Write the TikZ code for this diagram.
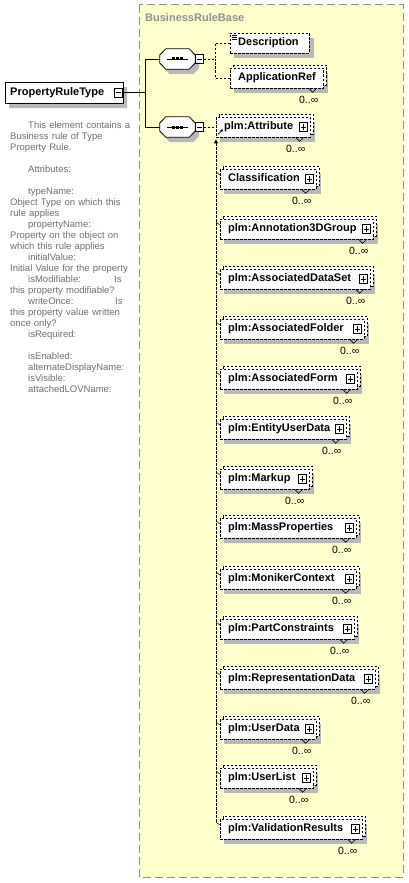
\documentclass[tikz,border=0pt]{standalone}
\usepackage{fontspec}
\setmainfont{Liberation Sans}
\usetikzlibrary{arrows.meta,shapes.misc}
\definecolor{basefill}{HTML}{FFFFCC}
\definecolor{baseedge}{HTML}{8C8C8C}
\definecolor{basetext}{HTML}{909090}
\definecolor{annot}{HTML}{6E6E6E}
\definecolor{shadowgrey}{HTML}{B8B8B8}
\newcommand\lblfont{\fontsize{11}{13}\selectfont\bfseries}
\newcommand\multfont{\fontsize{10.5}{12}\selectfont}
\newcommand\annotfont{\fontsize{9.5}{11}\selectfont}
\tikzset{
  xsd dash/.style={dash pattern=on 2.5pt off 1.5pt},
  elembox/.style={draw, xsd dash, line width=.7pt, fill=white, anchor=west,
    minimum height=20pt, inner sep=0pt},
  backbox/.style={draw, xsd dash, line width=.7pt, fill=white},
  lbl/.style={font=\lblfont, anchor=west, inner sep=0pt, text height=8pt, text depth=3pt},
  mult/.style={font=\multfont, inner sep=0pt},
  notch/.style={solid, line width=.6pt},
  tick/.style={line width=.5pt},
  conn/.style={line width=.8pt},
  dconn/.style={line width=.8pt, xsd dash},
  subline/.style={line width=.8pt, xsd dash},
  seqline/.style={line width=.8pt},
  markbox/.style={draw, solid, fill=white, line width=.6pt, minimum width=8pt,
    minimum height=9pt, inner sep=0pt},
  minusbox/.style={markbox, path picture={
    \draw[line width=.6pt] ([xshift=1.5pt]path picture bounding box.west)
      -- ([xshift=-1.5pt]path picture bounding box.east);}},
  plusbox/.style={markbox, path picture={
    \draw[line width=.6pt] ([xshift=1.5pt]path picture bounding box.west)
      -- ([xshift=-1.5pt]path picture bounding box.east);
    \draw[line width=.6pt] ([yshift=-1.5pt]path picture bounding box.north)
      -- ([yshift=1.5pt]path picture bounding box.south);}},
  seqfrm/.style={minimum width=35pt, minimum height=20pt, inner sep=0pt},
  rootshape/.style={chamfered rectangle, chamfered rectangle xsep=3pt,
    chamfered rectangle ysep=3pt,
    chamfered rectangle corners={north west,south west}, anchor=west,
    minimum width=118pt, minimum height=21pt, inner sep=0pt},
  rootbox/.style={rootshape, draw, line width=.8pt, fill=white}
}
% octagon of a sequence compositor
\newcommand\octpath[1]{([yshift=4pt]#1.west) -- ([xshift=6pt]#1.north west)
  -- ([xshift=-6pt]#1.north east) -- ([yshift=4pt]#1.east)
  -- ([yshift=-4pt]#1.east) -- ([xshift=-6pt]#1.south east)
  -- ([xshift=6pt]#1.south west) -- ([yshift=-4pt]#1.west) -- cycle}
\newcommand\seqbox[3]{%
  \node[seqfrm] (#1-sh) at (#2+4,#3+5) {};
  \fill[shadowgrey] \octpath{#1-sh};
  \node[seqfrm] (#1) at (#2,#3) {};
  \filldraw[seqline, fill=white] \octpath{#1};
  \draw[seqline] ([xshift=7pt]#1.west) -- ([xshift=-7pt]#1.east);
  \foreach \dx in {-4,0,4}
    \fill ([xshift=\dx pt]#1.center) ++(-1.5pt,-1.5pt) rectangle ++(3pt,3pt);
  \node[minusbox] (#1m) at ([xshift=4pt]#1.east) {};
}
% repeated element: shadow, back copy, box, label, notch and 0..oo
\newcommand\repelem[5]{%
  \fill[shadowgrey] (#2+4,#3-5) rectangle (#2+#4+5,#3+15);
  \draw[backbox] (#2+3,#3-13) rectangle (#2+#4+3,#3+7);
  \node[elembox, minimum width=#4pt] (#1) at (#2,#3) {};
  \node[lbl] (#1-lbl) at ([xshift=8pt]#1.west) {#5};
  \draw[notch] ([xshift=-15pt]#1.south east) -- ++(4,4) -- ++(4,-4);
  \node[mult] (#1-mult) at ([xshift=-15pt,yshift=-22pt]#1.east) {0..∞};
}

\begin{document}
\begin{tikzpicture}[x=1pt, y=-1pt]
\useasboundingbox (0,0) rectangle (408,883);

% base type area
\draw[baseedge, line width=1pt, dash pattern=on 8pt off 4pt, fill=basefill]
  (139,5) rectangle (403,877);
\node[font=\lblfont, text=basetext, anchor=west, inner sep=0pt] (basetitle)
  at (145,18) {BusinessRuleBase};

% root element
\node[rootshape, fill=shadowgrey] (prt-sh) at (9,97.5) {};
\node[rootbox] (prt) at (5,92.5) {};
\node[lbl] (prt-lbl) at ([xshift=5pt]prt.west) {PropertyRuleType};
\node[minusbox] (prtm) at ([xshift=-5.5pt]prt.east) {};

% documentation
\node[font=\annotfont, text=annot, anchor=north west, inner sep=0pt,
  align=left, text width=130pt] (doc) at (10,121) {%
  \hspace*{18pt}This element contains a\\
  Business rule of Type\\
  Property Rule.\\[11pt]
  \hspace*{18pt}Attributes:\\[11pt]
  \hspace*{18pt}typeName:\\
  Object Type on which this\\
  rule applies\\
  \hspace*{18pt}propertyName:\\
  Property on the object on\\
  which this rule applies\\
  \hspace*{18pt}initialValue:\\
  Initial Value for the property\\
  \makebox[104pt][l]{\hspace*{18pt}isModifiable:}Is\\
  this property modifiable?\\
  \makebox[105pt][l]{\hspace*{18pt}writeOnce:}Is\\
  this property value written\\
  once only?\\
  \hspace*{18pt}isRequired:\\[11pt]
  \hspace*{18pt}isEnabled:\\
  \hspace*{18pt}alternateDisplayName:\\
  \hspace*{18pt}isVisible:\\
  \hspace*{18pt}attachedLOVName:};

% sequences
\seqbox{seq1}{177.5}{59}
\seqbox{seq2}{177.5}{127}

\coordinate (fork0) at (145,92.5);
\draw[conn] (prtm.east) -- (fork0);
\draw[conn] (seq1.west) -| (fork0);
\draw[conn] (seq2.west) -| (fork0);

% first sequence
\fill[shadowgrey] (234,38) rectangle (314,58);
\node[elembox, minimum width=79pt] (desc) at (230,43) {};
\node[lbl] (desc-lbl) at ([xshift=8pt]desc.west) {Description};
\draw[line width=.5pt] (231.5,35) -- ++(5,0) (231.5,37) -- ++(5,0)
  (231.5,39) -- ++(5,0);
\repelem{appref}{230}{78}{93}{ApplicationRef}

\coordinate (fork1) at (215,59);
\draw[dconn] (seq1m.east) -- (fork1);
\draw[dconn] (desc.west) -| (fork1);
\draw[dconn] (appref.west) -| (fork1);

% second sequence: head of substitution group
\repelem{attr}{216}{127}{94}{plm:Attribute}
\node[plusbox] (attr-plus) at ([xshift=-7pt]attr.east) {};
\draw[-{Triangle[length=2.5pt,width=2.5pt]}, line width=.6pt]
  ([xshift=2pt,yshift=3pt]attr.south west) -- ++(5,-5);
\draw[dconn] (seq2m.east) -- (attr.west);

\coordinate (subend) at (216,822);
\draw[subline, {Triangle[length=4pt,width=4pt]}-]
  ([yshift=-2pt]attr.south west) -- (subend);

\foreach \nm/\yy/\ww/\lbl in {cls/179/96/Classification,
    ann/229/153/plm:Annotation3DGroup, ads/279/150/plm:AssociatedDataSet,
    afo/329/144/plm:AssociatedFolder, afm/379/137/plm:AssociatedForm,
    eud/429/126/plm:EntityUserData, mkp/479/89/plm:Markup,
    mpr/528/136/plm:MassProperties, mon/579/136/plm:MonikerContext,
    pcn/629/134/plm:PartConstraints, rep/679/155/plm:RepresentationData,
    usd/729/96/plm:UserData, usl/778/93/plm:UserList,
    val/829/142/plm:ValidationResults}{
  \repelem{\nm}{220}{\yy}{\ww}{\lbl}
  \node[plusbox] (\nm-plus) at ([xshift=-7pt]\nm.east) {};
  \draw[tick] (216,\yy-7) -- ([yshift=4pt]\nm.west);
}
\end{tikzpicture}
\end{document}
